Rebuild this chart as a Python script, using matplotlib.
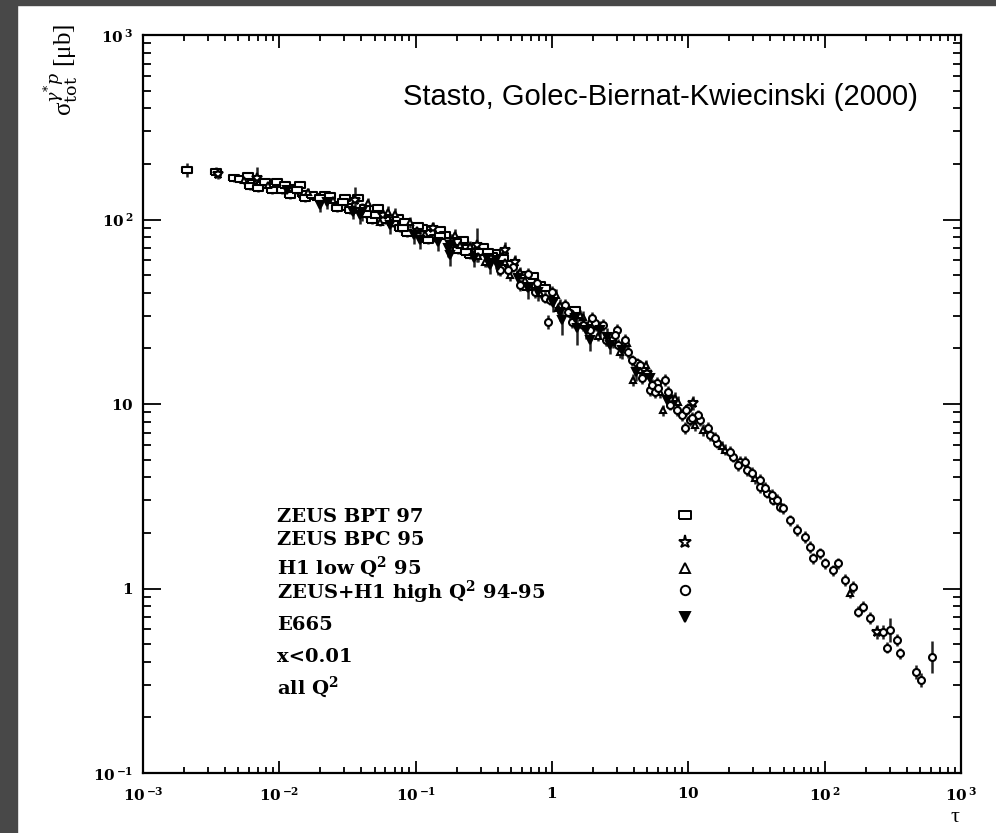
import numpy as np
import matplotlib
matplotlib.use("Agg")
import matplotlib.pyplot as plt
from matplotlib.patches import Rectangle
from matplotlib.ticker import FixedLocator, FixedFormatter, NullFormatter

plt.rcParams['mathtext.fontset'] = 'dejavuserif'
plt.rcParams['font.family'] = ['DejaVu Serif']

# ---- data: log10(tau), log10(sigma [mub]), error half-width in log10 ----
bpt_lt = [-2.677, -2.464, -2.332, -2.288, -2.193, -2.127, -2.017, -1.980, -1.900, -1.848,
          -1.826, -1.723, -1.665, -1.555, -1.518, -1.503, -1.371, -1.320, -1.166, -1.114,
          -1.063, -0.894, -0.858, -0.821, -0.623, -0.601, -0.506, -0.417, -0.219, -0.183,
          -0.161, 0.170,
          -2.230, -2.215, -2.156, -2.105, -2.054, -1.958, -1.922, -1.870, -1.811, -1.760,
          -1.701, -1.628, -1.577, -1.533, -1.481,
          -1.423, -1.298, -1.276, -1.129, -1.092, -0.953, -0.909, -0.784, -0.689, -0.652,
          -0.528, -0.439, -0.359, -0.139, -0.087, -0.051,
          -1.364, -1.225, -1.078, -0.982, -0.821, -0.704, -0.630, -0.469, -0.307]
bpt_ls = [2.268, 2.257, 2.225, 2.220, 2.198, 2.187, 2.203, 2.160, 2.171, 2.187,
          2.138, 2.122, 2.133, 2.079, 2.117, 2.068, 2.062, 1.997, 1.981, 1.954,
          1.927, 1.927, 1.900, 1.943, 1.846, 1.808, 1.851, 1.818, 1.699, 1.634,
          1.672, 1.509,
          2.236, 2.182, 2.171, 2.203, 2.160, 2.187, 2.133, 2.160, 2.117, 2.133,
          2.117, 2.127, 2.062, 2.095, 2.051,
          2.117, 2.024, 2.062, 2.008, 1.954, 1.954, 1.889, 1.916, 1.835, 1.889,
          1.824, 1.802, 1.791, 1.694, 1.645, 1.629,
          2.030, 1.997, 1.986, 1.965, 1.911, 1.878, 1.824, 1.824, 1.759]
bpt_err = [0.04, 0.03] + [0.02] * 70

bpc_lt = [-2.450, -2.164, -1.445, -1.239, -0.550, -0.344, 0.698, 0.881, 1.035, 2.385,
          -0.872, -0.271]
bpc_ls = [2.247, 2.225, 2.106, 2.024, 1.862, 1.835, 1.168, 1.022, 1.005, -0.236,
          1.954, 1.770]
bpc_err = [0.03, 0.06, 0.07, 0.03, 0.09, 0.045, 0.03, 0.03, 0.04, 0.04, 0.03, 0.04]

h1_lt = [-2.259, -2.083, -1.789, -1.606, -1.261, -0.990, -0.711, -0.674, -0.344, -0.307,
         -0.087, 0.059, 0.228, 0.280, 0.551, 0.595, 0.646, 0.815, 1.109, 1.270, 2.187,
         -1.349, -1.203, -1.041, -0.733, -0.601, -0.491, -0.197,
         0.030, 0.206, 0.338, 0.500, 0.690, 0.793, 0.903, 1.050, 1.248, 1.490,
         -1.151, -0.931, -0.542, -0.234, 0.045, 0.324, 0.448, 0.925]
h1_ls = [2.214, 2.187, 2.149, 2.106, 1.986, 1.943, 1.916, 1.862, 1.770, 1.699,
         1.602, 1.537, 1.472, 1.444, 1.331, 1.130, 1.184, 0.967, 0.859, 0.751, -0.024,
         2.089, 2.041, 1.986, 1.889, 1.856, 1.770, 1.672,
         1.591, 1.482, 1.369, 1.282, 1.211, 1.065, 1.033, 0.886, 0.772, 0.599,
         2.030, 1.921, 1.802, 1.715, 1.520, 1.423, 1.336, 1.011]
h1_err = [0.02] * 6 + [0.03] * 40

hq_lt = [-0.381, -0.285, -0.234, -0.109, -0.051, -0.029, 0.133, 0.316, 0.441, 0.478,
         0.624, 0.720, 0.756, 0.771, 0.918, 0.977, 1.013, 1.087, 1.160, 1.211,
         1.329, 1.380, 1.431, 1.468, 1.527, 1.527, 1.578, 1.622, 1.651, 1.673,
         1.695, 1.747, 1.798, 1.857, 1.894, 1.916, 1.967, 2.004, 2.062, 2.099,
         2.150, 2.209, 2.246, 2.282, 2.334, 2.429, 2.458, 2.481, 2.532, 2.554,
         2.671, 2.708, 2.789,
         -0.322, -0.124, -0.014, 0.096, 0.147, 0.294, 0.375, 0.463, 0.536, 0.588,
         0.661, 0.734, 0.830, 0.866, 0.955, 0.999, 1.072,
         1.145, 1.197, 1.307, 1.365, 1.417, 1.563, 1.615,
         -0.175, 0.001, 0.118, 0.228, 0.280, 0.397, 0.485, 0.558, 0.646, 0.778,
         0.852, 0.984, 1.028]
hq_ls = [1.726, 1.743, 1.645, 1.656, 1.575, 1.444, 1.493, 1.439, 1.347, 1.401,
         1.222, 1.076, 1.065, 1.114, 0.967, 0.870, 0.913, 0.913, 0.832, 0.789,
         0.713, 0.686, 0.642, 0.626, 0.550, 0.588, 0.518, 0.480, 0.480, 0.442,
         0.436, 0.371, 0.317, 0.279, 0.225, 0.165, 0.192, 0.138, 0.100, 0.138,
         0.046, 0.008, -0.127, -0.100, -0.160, -0.236, -0.322, -0.225, -0.279, -0.350,
         -0.453, -0.496, -0.371,
         1.726, 1.607, 1.564, 1.537, 1.444, 1.466, 1.428, 1.374, 1.347, 1.238,
         1.141, 1.103, 1.130, 0.995, 0.940, 0.978, 0.940,
         0.870, 0.816, 0.740, 0.669, 0.686, 0.545, 0.507,
         1.705, 1.607, 1.499, 1.428, 1.401, 1.347, 1.320, 1.282, 1.211, 1.087,
         1.065, 0.967, 0.924]
hq_err = ([0.03] * 5 + [0.04] + [0.03] * 39 +
          [0.04, 0.03, 0.065, 0.03, 0.03, 0.04, 0.04, 0.087] + [0.03] * 37)

e665_lt = [-1.944, -1.701, -1.650, -1.459, -1.408, -0.968, -0.748, -0.748, -0.476, -0.454,
           -0.175, 0.008, 0.074, 0.184, 0.280, 0.353, 0.404, 0.514, 0.844,
           -1.393, -1.188, -1.012, -0.836, -0.572, -0.395, -0.249,
           0.059, 0.250, 0.426, 0.617,
           -0.762, -0.410, -0.102, 0.170, 0.720]
e665_ls = [2.160, 2.079, 2.095, 2.041, 2.024, 1.889, 1.862, 1.808, 1.791, 1.753,
           1.629, 1.547, 1.455, 1.412, 1.347, 1.401, 1.363, 1.293, 1.022,
           2.041, 1.970, 1.916, 1.878, 1.791, 1.748, 1.683,
           1.499, 1.401, 1.320, 1.173,
           1.846, 1.780, 1.607, 1.466, 1.141]
e665_err = [0.04, 0.04, 0.04, 0.04, 0.05, 0.05, 0.06, 0.06, 0.05, 0.05,
            0.06, 0.05, 0.08, 0.09, 0.06, 0.05, 0.05, 0.05, 0.04] + [0.05] * 16

legend_labels = ["ZEUS BPT 97", "ZEUS BPC 95", r"H1 low Q$^{\mathbf{2}}$ 95",
                 r"ZEUS+H1 high Q$^{\mathbf{2}}$ 94-95", "E665"]
extra_labels = ["x<0.01", r"all Q$^{\mathbf{2}}$"]
title_text = "Stasto, Golec-Biernat-Kwiecinski (2000)"

rect_marker = [(-1, -0.7), (1, -0.7), (1, 0.7), (-1, 0.7), (-1, -0.7)]

series = [
    (bpt_lt, bpt_ls, bpt_err, dict(marker=rect_marker, ms=6.5, mfc='white')),
    (bpc_lt, bpc_ls, bpc_err, dict(marker='*', ms=7, mfc='white')),
    (h1_lt, h1_ls, h1_err, dict(marker='^', ms=5, mfc='white')),
    (hq_lt, hq_ls, hq_err, dict(marker='o', ms=5, mfc='white')),
    (e665_lt, e665_ls, e665_err, dict(marker='v', ms=5.5, mfc='black')),
]
for lt, ls, er, _ in series:
    assert len(lt) == len(ls) == len(er)

fig = plt.figure(figsize=(9.96, 8.33), dpi=100, facecolor='white')
fig.patches.append(Rectangle((0, 0), 17 / 996, 1, transform=fig.transFigure,
                             color='#484848', zorder=-10))
fig.patches.append(Rectangle((0, 1 - 5 / 833), 1, 5 / 833, transform=fig.transFigure,
                             color='#484848', zorder=-10))

ax = fig.add_axes([143 / 996, 60 / 833, 818 / 996, 738 / 833])
ax.set_xscale('log')
ax.set_yscale('log')
ax.set_xlim(1e-3, 1e3)
ax.set_ylim(1e-1, 1e3)

for lt, ls, er, style in series:
    t = 10 ** np.array(lt)
    s = 10 ** np.array(ls)
    e = np.array(er)
    yerr = [s - s * 10 ** (-e), s * 10 ** e - s]
    ax.errorbar(t, s, yerr=yerr, fmt='none', ecolor='#222222', elinewidth=1.8, capsize=0, zorder=2)
    ax.plot(t, s, linestyle='none', mec='black', mew=1.5, zorder=3, **style)

for sp in ax.spines.values():
    sp.set_linewidth(1.6)

ax.tick_params(which='both', direction='in', top=True, right=True, colors='black', width=1.3)
ax.tick_params(axis='x', which='major', length=9, pad=9)
ax.tick_params(axis='x', which='minor', length=4)
ax.tick_params(axis='y', which='major', length=13, pad=7)
ax.tick_params(axis='y', which='minor', length=6)

xt = [1e-3, 1e-2, 1e-1, 1, 10, 1e2, 1e3]
xtl = [r'$\mathbf{10}^{\,\mathbf{-3}}$', r'$\mathbf{10}^{\,\mathbf{-2}}$', r'$\mathbf{10}^{\,\mathbf{-1}}$',
       r'$\mathbf{1}$', r'$\mathbf{10}$', r'$\mathbf{10}^{\,\mathbf{2}}$', r'$\mathbf{10}^{\,\mathbf{3}}$']
yt = [1e-1, 1, 10, 1e2, 1e3]
ytl = [r'$\mathbf{10}^{\,\mathbf{-1}}$', r'$\mathbf{1}$', r'$\mathbf{10}$',
       r'$\mathbf{10}^{\,\mathbf{2}}$', r'$\mathbf{10}^{\,\mathbf{3}}$']
ax.xaxis.set_major_locator(FixedLocator(xt))
ax.xaxis.set_major_formatter(FixedFormatter(xtl))
ax.yaxis.set_major_locator(FixedLocator(yt))
ax.yaxis.set_major_formatter(FixedFormatter(ytl))
ax.xaxis.set_minor_formatter(NullFormatter())
ax.yaxis.set_minor_formatter(NullFormatter())
for lab in ax.get_xticklabels() + ax.get_yticklabels():
    lab.set_fontsize(11)

ax.text(0.9474, 0.916, title_text, transform=ax.transAxes, ha='right', va='center',
        fontsize=21, family='Liberation Sans')

ly = [0.3469, 0.3157, 0.2791, 0.2453, 0.2005]
my = [0.3496, 0.3130, 0.2778, 0.2480, 0.2114]
for lab, yy in zip(legend_labels, ly):
    ax.text(0.1638, yy, lab, transform=ax.transAxes, ha='left', va='center',
            fontsize=14, fontweight='bold')
for (_, _, _, style), yy in zip(series, my):
    st = dict(style)
    st['ms'] = style['ms'] * 1.35
    ax.plot([0.6626], [yy], transform=ax.transAxes, linestyle='none', mec='black',
            mew=1.4, clip_on=False, **st)
for lab, yy in zip(extra_labels, [0.1572, 0.1165]):
    ax.text(0.1638, yy, lab, transform=ax.transAxes, ha='left', va='center',
            fontsize=14, fontweight='bold')

fig.text(62 / 996, 1 - 70 / 833, r'σ$_{\mathrm{tot}}^{\gamma^{*}p}$ [μb]', rotation=90,
         ha='center', va='center', fontsize=18, family='Liberation Serif')
fig.text(955 / 996, 1 - 817 / 833, 'τ', ha='center', va='center', fontsize=16,
         family='Liberation Serif')

fig.savefig('out.png', dpi=100, facecolor='white')
